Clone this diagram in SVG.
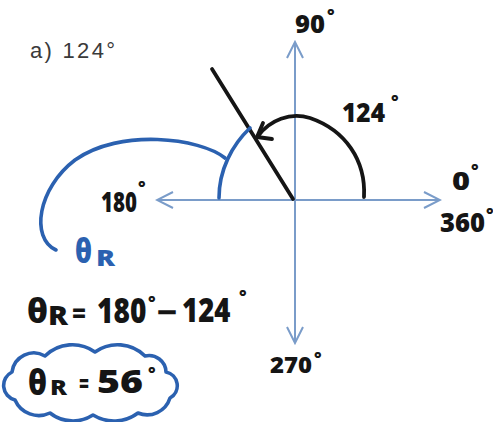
<svg xmlns="http://www.w3.org/2000/svg" width="493" height="422" viewBox="0 0 493 422">
<style>
.axis{stroke:#7a9cc9;stroke-width:2;fill:none}
.ink{stroke:#151515;stroke-width:3.8;fill:none;stroke-linecap:round;stroke-linejoin:round}
.blue{stroke:#2b61b0;stroke-width:3.6;fill:none;stroke-linecap:round;stroke-linejoin:round}
.hand{font-family:"Open Sans","DejaVu Sans",sans-serif;font-weight:800;fill:#151515}
.deg{font-size:18px}
.bt{fill:#2b61b0}
.title{font-family:"Liberation Sans",Arial,sans-serif;font-size:22px;fill:#3a3a3a}
</style>
<defs>
<marker id="chev" viewBox="-18 -10 20 20" refX="0" refY="0" markerWidth="20" markerHeight="20" markerUnits="userSpaceOnUse" orient="auto-start-reverse">
<path d="M-16,-8 L0,0 L-16,8" fill="none" stroke="#7a9cc9" stroke-width="2"/>
</marker>
</defs>
<rect width="493" height="422" fill="#fff"/>
<text class="title" x="30" y="58" textLength="85" lengthAdjust="spacing">a) 124°</text>
<g id="connectors">
<line class="axis" x1="157" y1="200" x2="440" y2="200" marker-start="url(#chev)" marker-end="url(#chev)"/>
<line class="axis" x1="295" y1="42" x2="295" y2="343" marker-start="url(#chev)" marker-end="url(#chev)"/>
<path class="ink" d="M212,69 L293,199"/>
<path class="ink" d="M364,197 C366,160 345,130 310,118 C290,112 270,120 258,136"/>
<path class="ink" d="M263,123 L257,137 L272,139"/>
<path class="blue" d="M219,198 C219,170 232,145 250,128"/>
<path class="blue" d="M225,158 C200,138 120,128 75,160 C38,188 30,238 56,250"/>
</g>
<g id="label-90"><text class="hand" y="33"><tspan x="295" font-size="25" textLength="30" lengthAdjust="spacingAndGlyphs">90</tspan><tspan class="deg" x="327" y="22">°</tspan></text></g>
<g id="label-124"><text class="hand" y="122"><tspan x="342" font-size="26" textLength="43" lengthAdjust="spacingAndGlyphs">124</tspan><tspan class="deg" x="391" y="108">°</tspan></text></g>
<g id="label-0"><text class="hand" y="190"><tspan x="452" font-size="25" textLength="18" lengthAdjust="spacingAndGlyphs">0</tspan><tspan class="deg" x="471" y="177">°</tspan></text></g>
<g id="label-360"><text class="hand" y="232"><tspan x="440" font-size="26" textLength="45" lengthAdjust="spacingAndGlyphs">360</tspan><tspan class="deg" x="486" y="221">°</tspan></text></g>
<g id="label-180"><text class="hand" font-size="28" transform="translate(101,212) scale(0.73,1)">180</text><text class="hand deg" x="138" y="194">°</text></g>
<g id="label-270"><text class="hand" y="373"><tspan x="270" font-size="22" textLength="42" lengthAdjust="spacingAndGlyphs">270</tspan><tspan class="deg" x="314" y="365" font-size="16">°</tspan></text></g>
<g id="label-thetaR"><text class="hand bt" y="263"><tspan x="75" font-size="34" textLength="17" lengthAdjust="spacingAndGlyphs">θ</tspan><tspan x="96" y="266" font-size="22" textLength="19" lengthAdjust="spacingAndGlyphs">R</tspan></text></g>
<g id="equation">
<text class="hand" y="323"><tspan x="27" font-size="34" textLength="21" lengthAdjust="spacingAndGlyphs">θ</tspan><tspan x="48" y="325" font-size="26" textLength="20" lengthAdjust="spacingAndGlyphs">R</tspan><tspan x="72" y="323" font-size="26" textLength="14" lengthAdjust="spacingAndGlyphs">=</tspan></text>
<text class="hand" font-size="36" transform="translate(97,323) scale(0.78,1)">180</text>
<text class="hand deg" x="148" y="309">°</text>
<text class="hand" x="157" y="323" font-size="30" textLength="20" lengthAdjust="spacingAndGlyphs">−</text>
<text class="hand" font-size="34" transform="translate(182,322) scale(0.81,1)">124</text>
<text class="hand deg" x="239" y="303">°</text>
</g>
<g id="answer">
<path class="blue" d="M12,372 A22,22 0 0 1 45,356 A39,39 0 0 1 95,352 A39,39 0 0 1 145,356 A17,17 0 0 1 166,372 A14,14 0 0 1 170,398 A24,24 0 0 1 138,413 A40,40 0 0 1 93,415 A37,37 0 0 1 50,413 A26,26 0 0 1 15,400 A15,15 0 0 1 12,372 Z"/>
<text class="hand" y="395"><tspan x="28" font-size="36" textLength="19" lengthAdjust="spacingAndGlyphs">θ</tspan><tspan x="50" font-size="21" textLength="17" lengthAdjust="spacingAndGlyphs">R</tspan><tspan x="79" y="392" font-size="24" textLength="10" lengthAdjust="spacingAndGlyphs">=</tspan><tspan x="97" y="393" font-size="32" textLength="46" lengthAdjust="spacingAndGlyphs">56</tspan><tspan class="deg" x="148" y="380">°</tspan></text>
</g>
</svg>
